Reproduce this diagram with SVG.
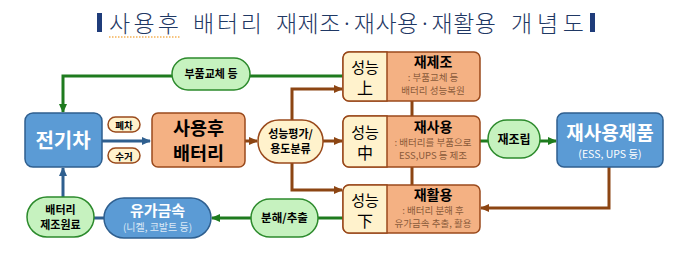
<svg xmlns="http://www.w3.org/2000/svg" width="687" height="262" viewBox="0 0 687 262">
<defs>
<style>
text{font-family:"Noto Sans CJK KR","Noto Sans",sans-serif;text-anchor:middle}
.t{text-anchor:start;font-size:23px;fill:#1f3864;font-weight:300}
.b{font-weight:700}
.blue{fill:#5b9bd5;stroke:#2f5f8f;stroke-width:1.5}
.org{fill:#f4b183;stroke:#9a4a1c;stroke-width:1.5}
.yel{fill:#fff2cc;stroke:#9a4a1c;stroke-width:1.5}
.grn{fill:#c6f2bf;stroke:#2c8a2c;stroke-width:1.5}
.lb{fill:none;stroke:#8c4513;stroke-width:3}
.lg{fill:none;stroke:#1e7b1e;stroke-width:3}
.lu{fill:none;stroke:#2f5f8f;stroke-width:3}
.sub{font-size:9.5px;fill:#8a5a3a}
.w{fill:#fff}
</style>
<marker id="ab" markerWidth="9" markerHeight="8" refX="8" refY="4" orient="auto" markerUnits="userSpaceOnUse"><path d="M0,0L9,4L0,8Z" fill="#8c4513"/></marker>
<marker id="ag" markerWidth="9" markerHeight="8" refX="8" refY="4" orient="auto" markerUnits="userSpaceOnUse"><path d="M0,0L9,4L0,8Z" fill="#1e7b1e"/></marker>
<marker id="au" markerWidth="9" markerHeight="8" refX="8" refY="4" orient="auto" markerUnits="userSpaceOnUse"><path d="M0,0L9,4L0,8Z" fill="#2f5f8f"/></marker>
</defs>
<rect width="687" height="262" fill="#fff"/>
<g id="title">
<rect x="97" y="13" width="5" height="19" fill="#1f3c7a"/>
<rect x="590" y="13" width="5" height="19" fill="#1f3c7a"/>
<text class="t" x="109" y="32" textLength="70" lengthAdjust="spacing">사용후</text>
<text class="t" x="193" y="32" textLength="69" lengthAdjust="spacing">배터리</text>
<text class="t" x="276" y="32" textLength="220" lengthAdjust="spacing">재제조·재사용·재활용</text>
<text class="t" x="511" y="32" textLength="73" lengthAdjust="spacing">개념도</text>
<line x1="109" y1="37" x2="180" y2="37" stroke="#f08a00" stroke-width="1.2" stroke-dasharray="1.5,1.5"/>
</g>
<g id="connectors">
<line class="lu" x1="102" y1="141" x2="150" y2="141" marker-end="url(#au)"/>
<line class="lb" x1="245" y1="141" x2="257" y2="141" marker-end="url(#ab)"/>
<line class="lb" x1="323" y1="141" x2="342" y2="141" marker-end="url(#ab)"/>
<polyline class="lb" points="292,120 292,89 342,89" marker-end="url(#ab)"/>
<polyline class="lb" points="292,163 292,190 342,190" marker-end="url(#ab)"/>
<line class="lb" x1="412" y1="101" x2="412" y2="116"/>
<line class="lb" x1="412" y1="167" x2="412" y2="185"/>
<line class="lg" x1="250" y1="76" x2="343" y2="76"/>
<polyline class="lg" points="172,76 63,76 63,112" marker-end="url(#ag)"/>
<line class="lg" x1="480" y1="141" x2="488" y2="141"/>
<line class="lg" x1="540" y1="141" x2="556" y2="141" marker-end="url(#ag)"/>
<polyline class="lb" points="609,167 609,208 481,208" marker-end="url(#ab)"/>
<line class="lg" x1="343" y1="218" x2="318" y2="218"/>
<line class="lg" x1="251" y1="218" x2="212" y2="218" marker-end="url(#ag)"/>
<line class="lu" x1="94" y1="218" x2="104" y2="218"/>
<line class="lu" x1="63" y1="197" x2="63" y2="168" marker-end="url(#au)"/>
</g>
<g id="ev">
<rect class="blue" x="25" y="113" width="77" height="54" rx="8"/>
<text class="b w" x="63" y="148" font-size="20">전기차</text>
</g>
<g id="scrap">
<rect class="yel" x="108" y="117" width="32" height="15" rx="7.5"/>
<text class="b" x="124" y="128.5" font-size="9.5">폐차</text>
</g>
<g id="collect">
<rect class="yel" x="108" y="148" width="32" height="15" rx="7.5"/>
<text class="b" x="124" y="159.5" font-size="9.5">수거</text>
</g>
<g id="usedbattery">
<rect class="org" x="152" y="113" width="93" height="54" rx="6"/>
<text class="b" x="198.5" y="135" font-size="18.5">사용후</text>
<text class="b" x="198.5" y="160" font-size="18.5">배터리</text>
</g>
<g id="evaluate">
<rect class="yel" x="258" y="120" width="65" height="43" rx="21"/>
<text class="b" x="290.5" y="138" font-size="11">성능평가/</text>
<text class="b" x="290.5" y="153" font-size="11">용도분류</text>
</g>
<g id="parts">
<rect class="grn" x="172" y="58" width="78" height="32" rx="16"/>
<text class="b" x="211" y="78" font-size="11">부품교체 등</text>
</g>
<g id="remanufacture">
<rect class="org" x="343" y="52" width="137" height="49" rx="6"/>
<path class="yel" d="M387,52H349A6,6 0 0 0 343,58V95A6,6 0 0 0 349,101H387Z"/>
<text x="365" y="73" font-size="15">성능</text>
<text x="365" y="94" font-size="16">上</text>
<text class="b" x="433" y="67" font-size="14">재제조</text>
<text class="sub" x="433" y="81">: 부품교체 등</text>
<text class="sub" x="433" y="94">배터리 성능복원</text>
</g>
<g id="reuse">
<rect class="org" x="343" y="116" width="137" height="51" rx="6"/>
<path class="yel" d="M387,116H349A6,6 0 0 0 343,122V161A6,6 0 0 0 349,167H387Z"/>
<text x="365" y="138" font-size="15">성능</text>
<text x="365" y="159" font-size="16">中</text>
<text class="b" x="433" y="132" font-size="14">재사용</text>
<text class="sub" x="433" y="146">: 배터리를 부품으로</text>
<text class="sub" x="433" y="159">ESS,UPS 등 제조</text>
</g>
<g id="recycle">
<rect class="org" x="343" y="185" width="137" height="48" rx="6"/>
<path class="yel" d="M387,185H349A6,6 0 0 0 343,191V227A6,6 0 0 0 349,233H387Z"/>
<text x="365" y="206" font-size="15">성능</text>
<text x="365" y="227" font-size="16">下</text>
<text class="b" x="433" y="200" font-size="14">재활용</text>
<text class="sub" x="433" y="214">: 배터리 분해 후</text>
<text class="sub" x="433" y="227">유가금속 추출, 활용</text>
</g>
<g id="reassemble">
<rect class="grn" x="488" y="120" width="52" height="38" rx="19"/>
<text class="b" x="514" y="144" font-size="12">재조립</text>
</g>
<g id="reuseproduct">
<rect class="blue" x="557" y="113" width="106" height="54" rx="7"/>
<text class="b w" x="610" y="140" font-size="19">재사용제품</text>
<text class="w" x="610" y="158" font-size="10.5">(ESS, UPS 등)</text>
</g>
<g id="disassemble">
<rect class="grn" x="251" y="199" width="67" height="38" rx="19"/>
<text class="b" x="284.5" y="222" font-size="11.5">분해/추출</text>
</g>
<g id="metal">
<rect class="blue" x="104" y="198" width="107" height="40" rx="20"/>
<text class="b w" x="157.5" y="216" font-size="15">유가금속</text>
<text x="157.5" y="231" font-size="10" fill="#dce9f5">(니켈, 코발트 등)</text>
</g>
<g id="material">
<rect class="grn" x="27" y="197" width="67" height="40" rx="20"/>
<text class="b" x="60.5" y="214" font-size="11">배터리</text>
<text class="b" x="60.5" y="229" font-size="11">제조원료</text>
</g>
</svg>
